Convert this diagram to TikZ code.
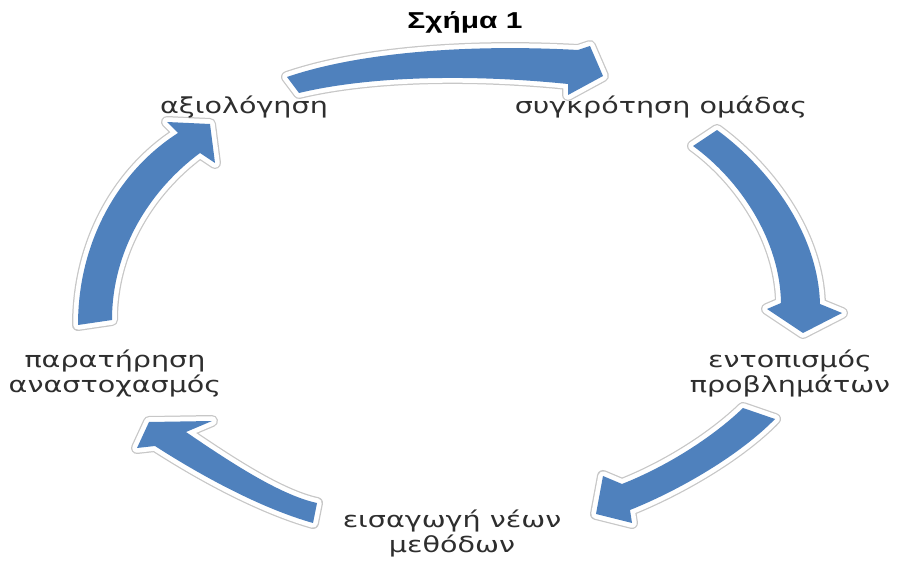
\documentclass[tikz,border=0pt]{standalone}
\usepackage{fontspec}
\newfontfamily\lblfont[FakeStretch=1.3]{DejaVu Sans}
\newfontfamily\ttlfont[FakeStretch=1.3,BoldFeatures={FakeStretch=1.3}]{Liberation Sans}
\definecolor{arrowblue}{HTML}{4F81BD}
\definecolor{lbltext}{HTML}{2E2E2E}
\newcommand\cyclearrow[1]{%
  \path[draw=black!22,line width=12pt,line join=round] #1;
  \path[draw=white,line width=9.5pt,line join=round] #1;
  \path[fill=arrowblue] #1;}
\tikzset{
  lbl/.style={font=\lblfont\fontsize{22}{25}\selectfont, text=lbltext, align=center, inner sep=0pt, anchor=base},
  ttl/.style={font=\ttlfont\bfseries\fontsize{23}{26}\selectfont, text=black, inner sep=0pt, anchor=base}
}
\begin{document}
\begin{tikzpicture}[x=1pt,y=-1pt]
\useasboundingbox (0,0) rectangle (898,561);
% arrows
\cyclearrow{(287,77) .. controls (360,52) and (470,44) .. (578,50) -- (590,46) -- (603,76) -- (568,95) -- (568,84) .. controls (470,74) and (370,76) .. (299,93) -- cycle}
\cyclearrow{(717,130) .. controls (765,165) and (818,230) .. (820,304) -- (842,313) -- (803,333) -- (767,309) -- (781,303) .. controls (780,240) and (740,180) .. (693,146) -- cycle}
\cyclearrow{(743,408) .. controls (715,435) and (670,465) .. (622,484) -- (603,476) -- (596,514) -- (632,523) -- (630,510) .. controls (680,490) and (740,455) .. (775,419) -- cycle}
\cyclearrow{(317,503) .. controls (280,495) and (230,462) .. (186,432) -- (212,421) -- (149,422) -- (137,448) -- (155,446) .. controls (200,475) and (260,508) .. (313,523) -- cycle}
\cyclearrow{(78,325) .. controls (78,240) and (120,170) .. (178,133) -- (167,122) -- (210,124) -- (215,163) -- (200,153) .. controls (150,190) and (112,250) .. (112,320) -- cycle}
% labels
\node[ttl] (title) at (465,29) {Σχήμα 1};
\node[lbl] (eval) at (244,114) {αξιολόγηση};
\node[lbl] (team) at (661,114) {συγκρότηση ομάδας};
\node[lbl] (prob) at (790,393) {εντοπισμός\\προβλημάτων};
\node[lbl] (meth) at (452,553) {εισαγωγή νέων\\μεθόδων};
\node[lbl] (obs) at (115,393) {παρατήρηση\\αναστοχασμός};
\end{tikzpicture}
\end{document}
